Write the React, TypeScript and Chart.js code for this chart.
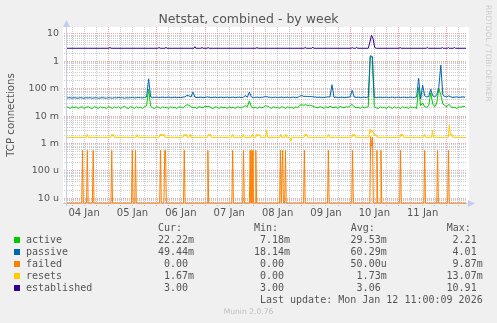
import React, { useEffect, useRef } from 'react';
import { Chart, registerables } from 'chart.js';

Chart.register(...registerables);

// Time axis: hours since 04 Jan 00:00
const X_MIN = 3.5;
const X_MAX = 202;
const HOUR_START = 3; // first hourly sample of active / passive

// active connections per second (milli units), hourly samples from HOUR_START
const activeMilli = [
  22, 21, 19, 22, 20, 22, 19, 21, 22, 19,
  21, 22, 20, 19, 22, 21, 19, 22, 20, 21,
  19, 22, 21, 19, 22, 20, 22, 19, 21, 23,
  20, 19, 22, 21, 19, 22, 20, 21, 19, 22,
  24, 95, 23, 20, 19, 22, 21, 19, 22, 20,
  21, 19, 22, 20, 21, 19, 22, 21, 20, 23,
  26, 25, 22, 20, 21, 19, 22, 21, 20, 23,
  22, 23, 20, 19, 22, 21, 19, 22, 20, 21,
  19, 22, 20, 21, 19, 22, 21, 20, 22, 24,
  22, 36, 22, 20, 21, 19, 22, 20, 21, 24,
  23, 21, 19, 22, 20, 21, 19, 22, 21, 19,
  22, 20, 21, 19, 22, 20, 25, 26, 25, 26,
  24, 25, 24, 22, 21, 20, 22, 21, 19, 22,
  20, 23, 21, 20, 22, 19, 23, 21, 20, 22,
  21, 24, 27, 22, 20, 21, 19, 22, 20, 21,
  22, 1500, 1400, 22, 20, 19, 22, 20, 21, 19,
  22, 21, 19, 22, 20, 21, 19, 22, 20, 21,
  19, 22, 20, 21, 19, 110, 24, 30, 22, 21,
  24, 70, 28, 22, 30, 100, 60, 28, 24, 22,
  27, 22, 20, 21, 19, 22, 21, 23, 22,
];

// passive connections per second (milli units), hourly samples from HOUR_START
const passiveMilli = [
  46, 46, 47, 45, 47, 46, 45, 47, 46, 45,
  47, 46, 47, 45, 46, 47, 45, 46, 47, 46,
  45, 47, 46, 45, 47, 46, 48, 46, 47, 45,
  47, 46, 47, 48, 46, 47, 48, 47, 46, 48,
  50, 230, 50, 47, 48, 49, 47, 48, 49, 47,
  48, 49, 47, 48, 49, 47, 48, 47, 49, 50,
  57, 55, 50, 75, 49, 47, 48, 49, 47, 48,
  50, 49, 47, 48, 49, 47, 48, 49, 47, 48,
  49, 47, 48, 49, 47, 48, 49, 47, 48, 57,
  49, 75, 50, 47, 48, 49, 47, 48, 49, 52,
  50, 48, 47, 48, 49, 47, 48, 49, 47, 48,
  49, 47, 48, 49, 47, 48, 53, 57, 52, 53,
  51, 52, 51, 50, 49, 48, 49, 47, 48, 49,
  50, 50, 140, 48, 49, 47, 48, 49, 47, 48,
  49, 50, 87, 50, 48, 49, 47, 48, 49, 47,
  50, 1600, 1500, 48, 47, 48, 49, 47, 48, 49,
  47, 48, 49, 47, 48, 49, 47, 48, 49, 47,
  48, 49, 47, 48, 50, 240, 42, 135, 55, 50,
  52, 95, 55, 50, 60, 110, 720, 60, 52, 50,
  55, 50, 48, 49, 50, 48, 49, 50, 49,
];

// failed (milli units): [hour, value]
const failedMilliPts: [number, number][] = [
  [3, 0],
  [10.8, 0], [11.2, 0.56], [11.6, 0],
  [13.2, 0], [13.6, 0.56], [14.0, 0],
  [16.1, 0], [16.5, 0.56], [16.9, 0],
  [25.3, 0], [25.7, 0.56], [26.1, 0],
  [35.5, 0], [35.9, 0.56], [36.3, 0],
  [37.1, 0], [37.5, 0.56], [37.9, 0],
  [49.5, 0], [49.9, 0.56], [50.3, 0],
  [51.6, 0], [52.0, 0.56], [52.4, 0.56], [52.8, 0],
  [61.3, 0], [61.7, 0.56], [62.1, 0],
  [73.0, 0], [73.4, 0.56], [73.8, 0],
  [85.3, 0], [85.7, 0.56], [86.1, 0],
  [90.7, 0], [91.1, 0.56], [91.5, 0],
  [94.0, 0], [94.4, 0.56], [94.8, 0],
  [95.0, 0], [95.4, 0.56], [95.8, 0],
  [96.8, 0], [97.2, 0.56], [97.6, 0],
  [109.0, 0], [109.4, 0.56], [109.8, 0],
  [110.1, 0], [110.5, 0.56], [110.9, 0],
  [111.5, 0], [111.9, 0.56], [112.3, 0],
  [120.9, 0], [121.3, 0.56], [121.7, 0],
  [132.8, 0], [133.2, 0.56], [133.6, 0],
  [144.8, 0], [145.2, 0.56], [145.6, 0],
  [153.8, 0], [154.2, 1.8], [154.6, 0.8], [155.1, 1.7], [155.5, 0],
  [156.9, 0], [157.3, 0.56], [157.7, 0],
  [158.9, 0], [159.3, 0.56], [159.7, 0],
  [168.6, 0], [169.0, 0.56], [169.4, 0],
  [180.6, 0], [181.0, 0.56], [181.4, 0],
  [187.0, 0], [187.4, 0.56], [187.8, 0],
  [192.4, 0], [192.8, 0.56], [193.2, 0],
  [201.5, 0],
];

// resets (milli units): [hour, value]
const resetsMilliPts: [number, number][] = [
  [3, 1.67],
  [13.1, 1.67], [13.6, 2.2], [14.1, 1.67],
  [25.2, 1.67], [25.7, 2.2], [26.1, 1.9], [26.5, 2.2], [27.0, 1.67],
  [37.9, 1.67], [38.4, 2.2], [38.9, 1.67],
  [49.2, 1.67], [49.7, 2.2], [50.1, 1.9], [50.6, 2.2], [51.1, 1.9], [51.6, 2.2], [52.1, 1.67],
  [61.1, 1.67], [61.6, 2.2], [62.1, 1.9], [62.6, 2.2], [63.1, 1.67],
  [64.1, 1.67], [64.6, 2.2], [65.1, 1.67],
  [73.2, 1.67], [73.7, 2.2], [74.1, 1.9], [74.5, 2.2], [75.0, 1.67],
  [85.1, 1.67], [85.6, 2.2], [86.1, 1.67],
  [90.5, 1.67], [91.0, 2.2], [91.5, 1.67],
  [95.0, 1.67], [95.5, 2.2], [96.0, 1.67],
  [97.2, 1.67], [97.7, 2.2], [98.3, 1.9], [99.0, 2.2], [99.5, 1.67],
  [102.1, 1.67], [102.6, 3.0], [103.1, 1.67],
  [109.1, 1.67], [109.6, 2.2], [110.1, 1.67],
  [111.6, 1.67], [112.1, 2.2], [112.6, 1.67],
  [114.1, 1.67], [114.6, 1.2], [115.1, 1.67],
  [121.2, 1.67], [121.7, 2.2], [122.0, 1.9], [122.4, 2.2], [122.9, 1.67],
  [132.7, 1.67], [133.2, 2.2], [133.7, 1.67],
  [144.9, 1.67], [145.4, 2.2], [145.7, 1.9], [146.0, 2.2], [146.5, 1.67],
  [153.3, 1.67], [153.9, 3.4], [154.5, 2.4], [155.1, 3.0], [155.9, 2.0], [156.8, 2.2], [157.3, 1.67],
  [168.8, 1.67], [169.3, 2.2], [169.6, 1.9], [170.0, 2.2], [170.5, 1.67],
  [180.4, 1.67], [180.9, 2.2], [181.4, 1.67],
  [184.4, 1.67], [184.9, 3.0], [185.4, 1.67],
  [192.7, 1.67], [193.2, 4.7], [193.8, 2.0], [194.5, 2.2], [195.0, 1.67],
  [201.5, 1.67],
];

// established: [hour, value]
const establishedPts: [number, number][] = [
  [3, 3.0],
  [24.3, 3.0], [24.8, 3.25], [25.3, 3.0],
  [48.7, 3.0], [49.2, 3.25], [49.7, 3.0],
  [52.1, 3.0], [52.6, 3.25], [53.1, 3.0],
  [66.5, 3.0], [67.0, 3.4], [67.5, 3.0],
  [70.0, 3.0], [70.5, 3.2], [71.0, 3.0],
  [73.0, 3.0], [73.5, 3.2], [74.0, 3.0],
  [97.3, 3.0], [97.8, 3.2], [98.3, 3.0],
  [121.2, 3.0], [121.7, 3.25], [122.2, 3.0],
  [125.0, 3.0], [125.5, 3.3], [126.0, 3.0],
  [144.5, 3.0], [145.0, 3.2], [145.5, 3.0],
  [146.8, 3.0], [147.3, 3.25], [147.8, 3.0],
  [153.0, 3.0], [153.8, 5.0], [154.6, 9.0], [155.4, 6.6], [156.2, 3.2], [157.0, 3.0],
  [168.3, 3.0], [168.8, 3.2], [169.3, 3.0],
  [181.8, 3.0], [182.3, 3.25], [182.8, 3.0],
  [189.2, 3.0], [189.7, 3.2], [190.2, 3.0],
  [192.2, 3.0], [192.7, 3.2], [193.2, 3.0],
  [195.2, 3.0], [195.7, 3.25], [196.2, 3.0],
  [201.5, 3.0],
];

const dayLabels = ['04 Jan', '05 Jan', '06 Jan', '07 Jan', '08 Jan', '09 Jan', '10 Jan', '11 Jan'];
const yDecadeValues = [1e-5, 1e-4, 1e-3, 1e-2, 1e-1, 1, 10];
const yDecadeLabels = ['10 u', '100 u', '1 m', '10 m', '100 m', '1', '10'];
const Y_MIN = 6.73e-6;
const Y_MAX = 17.9;

const seriesNames = ['active', 'passive', 'failed', 'resets', 'established'];
const seriesColors = ['#00CC00', '#0066B3', '#FF8000', '#FFCC00', '#330099'];
const curText = ['22.22m', '49.44m', '0.00 ', '1.67m', '3.00 '];
const minText = ['7.18m', '18.14m', '0.00 ', '0.00 ', '3.00 '];
const avgText = ['29.53m', '60.29m', '50.00u', '1.73m', '3.06 '];
const maxText = ['2.21 ', '4.01 ', '9.87m', '13.07m', '10.91 '];

const RED_GRID = 'rgba(225,110,110,0.6)';
const GREY_GRID = 'rgba(170,170,170,0.6)';
const AXIS_COLOR = '#c4ccf4';

function isDecade(v: number) {
  const l = Math.log10(v);
  return Math.abs(l - Math.round(l)) < 1e-6;
}

const yGridValues: number[] = [];
for (let e = -6; e <= 1; e++) {
  for (let k = 1; k <= 9; k++) {
    const v = k * Math.pow(10, e);
    if (v >= Y_MIN && v <= Y_MAX) yGridValues.push(v);
  }
}
const xGridHours: number[] = [];
for (let h = 6; h < X_MAX; h += 6) xGridHours.push(h);

const muninPlugin = {
  id: 'muninDecor',
  beforeDraw(chart: any) {
    const { ctx, chartArea: a } = chart;
    ctx.save();
    ctx.fillStyle = '#f0f0f0';
    ctx.fillRect(0, 0, chart.width, chart.height);
    ctx.fillStyle = '#ffffff';
    ctx.fillRect(a.left - 4, a.top, a.right - a.left + 6, a.bottom - a.top + 1);
    ctx.restore();
  },
  beforeDatasetsDraw(chart: any) {
    const { ctx, chartArea: a } = chart;
    ctx.save();
    ctx.strokeStyle = AXIS_COLOR;
    ctx.fillStyle = AXIS_COLOR;
    ctx.lineWidth = 1;
    ctx.beginPath();
    ctx.moveTo(a.left - 0.5, a.bottom + 3);
    ctx.lineTo(a.left - 0.5, a.top - 1);
    ctx.moveTo(a.left - 4, a.bottom + 0.5);
    ctx.lineTo(a.right + 1, a.bottom + 0.5);
    ctx.stroke();
    ctx.beginPath();
    ctx.moveTo(a.left - 0.5, a.top - 7);
    ctx.lineTo(a.left - 4, a.top);
    ctx.lineTo(a.left + 3, a.top);
    ctx.closePath();
    ctx.fill();
    ctx.beginPath();
    ctx.moveTo(a.right + 8, a.bottom + 0.5);
    ctx.lineTo(a.right + 1, a.bottom - 3);
    ctx.lineTo(a.right + 1, a.bottom + 4);
    ctx.closePath();
    ctx.fill();
    ctx.restore();
  },
};

export default function App() {
  const canvasRef = useRef<HTMLCanvasElement | null>(null);

  useEffect(() => {
    const canvas = canvasRef.current;
    if (!canvas) return;
    Chart.defaults.font.family = 'DejaVu Sans';

    // a log axis cannot show 0: zero readings sit on the axis floor, as in rrdtool
    const floor0 = (v: number) => (v > 0 ? v : Y_MIN);
    const hourly = (arr: number[]) => arr.map((v, i) => ({ x: HOUR_START + i, y: floor0(v / 1000) }));
    const pts = (arr: [number, number][], scale: number) => arr.map(([x, y]) => ({ x, y: floor0(y * scale) }));

    const mk = (idx: number, data: any[], order: number, extra: any = {}) => ({
      label: seriesNames[idx],
      data,
      borderColor: seriesColors[idx],
      backgroundColor: seriesColors[idx],
      borderWidth: 1,
      pointRadius: 0,
      tension: 0,
      fill: false,
      order,
      ...extra,
    });

    const chart = new Chart(canvas, {
      type: 'line',
      data: {
        datasets: [
          mk(0, hourly(activeMilli), 5),
          mk(1, hourly(passiveMilli), 4),
          mk(2, pts(failedMilliPts, 1 / 1000), 3, { clip: { left: 0, top: 0, right: 0, bottom: 2 } }),
          mk(3, pts(resetsMilliPts, 1 / 1000), 2),
          mk(4, pts(establishedPts, 1), 1),
        ],
      },
      options: {
        animation: false,
        responsive: false,
        maintainAspectRatio: false,
        events: [],
        layout: { padding: { left: 0, right: 30, top: 27, bottom: 0 } },
        plugins: {
          legend: { display: false },
          tooltip: { enabled: false },
          title: { display: false },
        },
        scales: {
          x: {
            type: 'linear',
            min: X_MIN,
            max: X_MAX,
            afterBuildTicks: (s: any) => {
              s.ticks = xGridHours.map((v) => ({ value: v }));
            },
            afterFit: (s: any) => {
              s.height = 120;
            },
            ticks: {
              autoSkip: false,
              maxRotation: 0,
              minRotation: 0,
              padding: 1,
              color: '#555555',
              font: { family: 'DejaVu Sans', size: 10 },
              callback: (v: any) => {
                const h = Number(v);
                if (h % 24 === 12) return dayLabels[(h - 12) / 24] ?? '';
                return '';
              },
            },
            grid: {
              drawTicks: true,
              tickLength: 3,
              lineWidth: 1,
              color: (c: any) => (c.tick && c.tick.value % 24 === 0 ? RED_GRID : GREY_GRID),
              tickColor: (c: any) => (c.tick && c.tick.value % 24 === 0 ? RED_GRID : GREY_GRID),
              tickBorderDash: [1, 1],
            },
            border: { display: false, dash: [1, 1] },
          },
          y: {
            type: 'logarithmic',
            min: Y_MIN,
            max: Y_MAX,
            afterBuildTicks: (s: any) => {
              s.ticks = yGridValues.map((v) => ({ value: v }));
            },
            afterFit: (s: any) => {
              s.width = 67;
            },
            ticks: {
              autoSkip: false,
              padding: 5,
              color: '#555555',
              font: { family: 'DejaVu Sans', size: 9.5 },
              callback: (v: any) => {
                const val = Number(v);
                const i = yDecadeValues.findIndex((d) => Math.abs(val / d - 1) < 1e-6);
                return i >= 0 ? yDecadeLabels[i] : '';
              },
            },
            grid: {
              drawTicks: true,
              tickLength: 3,
              lineWidth: 1,
              color: (c: any) => (c.tick && isDecade(c.tick.value) ? RED_GRID : GREY_GRID),
              tickColor: (c: any) => (c.tick && isDecade(c.tick.value) ? RED_GRID : GREY_GRID),
              tickBorderDash: [1, 1],
            },
            border: { display: false, dash: [1, 1] },
            title: {
              display: true,
              text: 'TCP connections',
              color: '#555555',
              font: { family: 'DejaVu Sans', size: 10.2 },
              padding: { top: 5, bottom: 0 },
            },
          },
        },
      } as any,
      plugins: [muninPlugin],
    });

    return () => chart.destroy();
  }, []);

  const mono = '"DejaVu Sans Mono", monospace';
  const rowCenter = (k: number) => 227.5 + 12 * k;
  const textColor = '#555555';

  const cell = (text: string, right: number, center: number, key: string) => (
    <div
      key={key}
      style={{
        position: 'absolute',
        left: right - 400,
        width: 400,
        top: center - 6,
        height: 12,
        lineHeight: '12px',
        textAlign: 'right',
        whiteSpace: 'pre',
        fontFamily: mono,
        fontSize: 10,
        color: textColor,
      }}
    >
      {text}
    </div>
  );

  const colRights = [194, 290, 386.7, 482.7];
  const headers = ['Cur:', 'Min:', 'Avg:', 'Max:'];
  const cols = [curText, minText, avgText, maxText];

  return (
    <div
      style={{
        position: 'fixed',
        left: 0,
        top: 0,
        width: 497,
        height: 323,
        background: '#f0f0f0',
        overflow: 'hidden',
      }}
    >
      <canvas
        ref={canvasRef}
        width={497}
        height={323}
        style={{ position: 'absolute', left: 0, top: 0, width: 497, height: 323, display: 'block' }}
      />
      <div
        style={{
          position: 'absolute',
          left: 0,
          top: 12,
          width: 497,
          textAlign: 'center',
          fontFamily: 'DejaVu Sans',
          fontSize: 12.5,
          lineHeight: '14px',
          color: textColor,
        }}
      >
        Netstat, combined - by week
      </div>
      <div
        style={{
          position: 'absolute',
          left: 484,
          top: 5,
          writingMode: 'vertical-rl',
          fontFamily: 'DejaVu Sans',
          fontSize: 7.5,
          lineHeight: '9px',
          color: '#cccccc',
          whiteSpace: 'nowrap',
        }}
      >
        RRDTOOL / TOBI OETIKER
      </div>
      {headers.map((h, j) => (
        <div
          key={'h' + j}
          style={{
            position: 'absolute',
            left: colRights[j] - 36,
            top: rowCenter(0) - 6,
            height: 12,
            lineHeight: '12px',
            whiteSpace: 'pre',
            fontFamily: mono,
            fontSize: 10,
            color: textColor,
          }}
        >
          {h}
        </div>
      ))}
      {seriesNames.map((name, i) => (
        <React.Fragment key={name}>
          <div
            style={{
              position: 'absolute',
              left: 14,
              top: Math.round(rowCenter(i + 1) - 2.5),
              width: 6,
              height: 6,
              background: seriesColors[i],
            }}
          />
          <div
            style={{
              position: 'absolute',
              left: 26,
              top: rowCenter(i + 1) - 6,
              height: 12,
              lineHeight: '12px',
              whiteSpace: 'pre',
              fontFamily: mono,
              fontSize: 10,
              color: textColor,
            }}
          >
            {name}
          </div>
          {cols.map((col, j) => cell(col[i], colRights[j], rowCenter(i + 1), name + j))}
        </React.Fragment>
      ))}
      {cell('Last update: Mon Jan 12 11:00:09 2026', 482.7, rowCenter(6), 'lu')}
      <div
        style={{
          position: 'absolute',
          left: 0,
          width: 497,
          top: 307,
          height: 10,
          lineHeight: '10px',
          textAlign: 'center',
          fontFamily: 'DejaVu Sans',
          fontSize: 7.6,
          color: '#c0c0c0',
        }}
      >
        Munin 2.0.76
      </div>
    </div>
  );
}
